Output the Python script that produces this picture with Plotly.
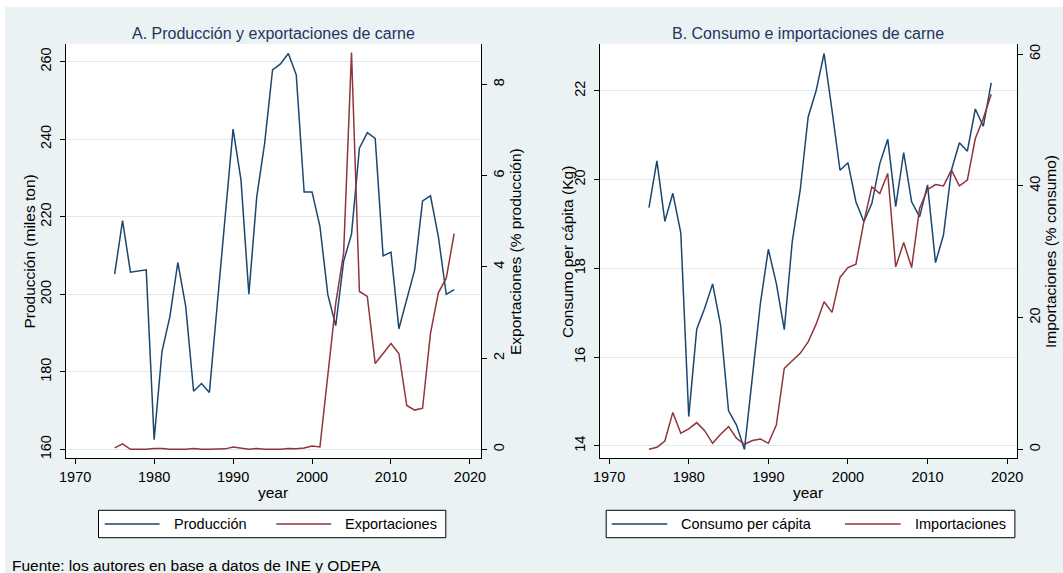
import plotly.graph_objects as go

# ---------------- data ----------------
years = list(range(1975, 2019))

produccion = [205.2, 219.0, 205.7, 206.0, 206.3, 162.5, 185.3, 194.3, 208.2, 196.9,
              175.0, 177.0, 174.7, 197.5, 220.5, 242.6, 229.5, 200.0, 225.2, 239.0,
              257.9, 259.4, 262.1, 256.6, 226.4, 226.4, 217.5, 199.9, 191.9, 208.5,
              215.5, 237.7, 241.7, 240.2, 209.9, 210.9, 191.1, 198.6, 206.3, 224.1,
              225.4, 214.9, 200.0, 201.2]

exportaciones = [0.03, 0.12, 0.0, 0.0, 0.0, 0.02, 0.02, 0.0, 0.0, 0.0,
                 0.02, 0.0, 0.0, 0.0, 0.01, 0.05, 0.03, 0.0, 0.02, 0.0,
                 0.0, 0.0, 0.02, 0.01, 0.03, 0.07, 0.05, 1.6, 3.2, 4.3,
                 8.7, 3.46, 3.35, 1.88, 2.1, 2.32, 2.1, 0.96, 0.86, 0.9,
                 2.54, 3.43, 3.75, 4.73]

consumo = [19.37, 20.42, 19.06, 19.69, 18.8, 14.66, 16.63, 17.1, 17.65, 16.72,
           14.79, 14.47, 13.92, 15.56, 17.21, 18.43, 17.66, 16.62, 18.6, 19.76,
           21.41, 22.0, 22.84, 21.56, 20.21, 20.38, 19.5, 19.05, 19.46, 20.36,
           20.91, 19.39, 20.61, 19.5, 19.16, 19.88, 18.13, 18.75, 20.21, 20.83,
           20.64, 21.59, 21.2, 22.18]

importaciones = [0.0, 0.3, 1.26, 5.6, 2.43, 3.09, 4.05, 2.83, 0.91, 2.28,
                 3.44, 1.67, 0.76, 1.32, 1.57, 0.91, 3.69, 12.29, 13.45, 14.57,
                 16.3, 19.0, 22.4, 20.79, 26.1, 27.6, 28.12, 34.55, 39.86, 38.85,
                 41.88, 27.7, 31.4, 27.6, 36.57, 39.45, 40.2, 40.0, 42.39, 40.0,
                 40.87, 47.19, 50.23, 53.92]

x_ticks = [1970, 1980, 1990, 2000, 2010, 2020]
prod_ticks = [160, 180, 200, 220, 240, 260]
exp_ticks = [0, 2, 4, 6, 8]
cons_ticks = [14, 16, 18, 20, 22]
imp_ticks = [0, 20, 40, 60]

title_a = "A. Producción y exportaciones de carne"
title_b = "B. Consumo e importaciones de carne"
name_prod = "Producción"
name_exp = "Exportaciones"
name_cons = "Consumo per cápita"
name_imp = "Importaciones"
ytitle_prod = "Producción (miles ton)"
ytitle_exp = "Exportaciones (% producción)"
ytitle_cons = "Consumo per cápita (Kg)"
ytitle_imp = "Importaciones (% consumo)"
xtitle = "year"
fuente = "Fuente: los autores en base a datos de INE y ODEPA"

# ---------------- style ----------------
W, H = 1063, 573
NAVY = "#1a476f"
MAROON = "#90353b"
BG = "#eaf2f3"
GRID = "#e0e9ed"
TITLE_C = "#243560"
FONT = "Liberation Sans, Arial, sans-serif"


def X(px):
    return px / W


def Y(py):
    return 1 - py / H


dom_y = [Y(458.3), Y(44.2)]
dom_a = [X(65.7), X(481.0)]
dom_b = [X(600.0), X(1016.7)]

fig = go.Figure()
lw = 1.5
fig.add_trace(go.Scatter(x=years, y=produccion, mode="lines", name=name_prod,
                         line=dict(color=NAVY, width=lw), xaxis="x", yaxis="y"))
fig.add_trace(go.Scatter(x=years, y=exportaciones, mode="lines", name=name_exp,
                         line=dict(color=MAROON, width=lw), xaxis="x", yaxis="y2"))
fig.add_trace(go.Scatter(x=years, y=consumo, mode="lines", name=name_cons,
                         line=dict(color=NAVY, width=lw), xaxis="x2", yaxis="y3"))
fig.add_trace(go.Scatter(x=years, y=importaciones, mode="lines", name=name_imp,
                         line=dict(color=MAROON, width=lw), xaxis="x2", yaxis="y4"))

tickfont = dict(family=FONT, size=14.5, color="black")
common = dict(showline=True, linecolor="black", linewidth=1, ticks="outside",
              ticklen=5, tickcolor="black", tickwidth=1, zeroline=False,
              tickfont=tickfont, automargin=False, fixedrange=True)

fig.update_layout(
    width=W, height=H,
    margin=dict(l=0, r=0, t=0, b=0),
    paper_bgcolor=BG, plot_bgcolor="white",
    showlegend=False,
    font=dict(family=FONT, color="black"),
    xaxis=dict(domain=dom_a, anchor="y", range=[1968.8, 2021.4], tickvals=x_ticks,
               showgrid=False, **common),
    yaxis=dict(domain=dom_y, anchor="x", range=[157.7, 264.5], tickvals=prod_ticks,
               tickangle=-90, showgrid=True, gridcolor=GRID, gridwidth=1.2,
               ticklabelstandoff=3, **common),
    yaxis2=dict(overlaying="y", side="right", anchor="x", range=[-0.197, 8.88],
                tickvals=exp_ticks, tickangle=-90, showgrid=False, **common),
    xaxis2=dict(domain=dom_b, anchor="y3", range=[1968.85, 2021.2], tickvals=x_ticks,
                showgrid=False, **common),
    yaxis3=dict(domain=dom_y, anchor="x2", range=[13.72, 23.05], tickvals=cons_ticks,
                tickangle=-90, showgrid=True, gridcolor=GRID, gridwidth=1.2,
                ticklabelstandoff=3, **common),
    yaxis4=dict(overlaying="y3", side="right", anchor="x2", range=[-1.37, 61.52],
                tickvals=imp_ticks, tickangle=-90, showgrid=False, **common),
)

shapes = []
ann = []

# white outer strips (top and left)
shapes.append(dict(type="rect", xref="paper", yref="paper", x0=0, x1=1, y0=Y(7), y1=1,
                   fillcolor="white", line=dict(width=0), layer="below"))
shapes.append(dict(type="rect", xref="paper", yref="paper", x0=0, x1=X(5), y0=0, y1=1,
                   fillcolor="white", line=dict(width=0), layer="below"))


def text(px, py, s, size, color="black", xanchor="center", angle=0):
    ann.append(dict(x=X(px), y=Y(py), xref="paper", yref="paper", text=s,
                    showarrow=False, xanchor=xanchor, yanchor="middle",
                    textangle=angle, font=dict(family=FONT, size=size, color=color)))


# titles
text(273.4, 33.5, title_a, 16, TITLE_C)
text(808.4, 33.5, title_b, 16, TITLE_C)
# axis titles
text(28.5, 252, ytitle_prod, 15.5, angle=-90)
text(515, 252, ytitle_exp, 15.5, angle=-90)
text(567, 252, ytitle_cons, 15.5, angle=-90)
text(1050, 252, ytitle_imp, 15.5, angle=-90)
text(273.4, 492, xtitle, 15.5)
text(808.4, 492, xtitle, 15.5)
# footnote
text(9.6, 565, fuente, 15.5, xanchor="left")


# legends
def legend(x0, x1, y0, y1, entries):
    shapes.append(dict(type="rect", xref="paper", yref="paper", x0=X(x0), x1=X(x1),
                       y0=Y(y1), y1=Y(y0), fillcolor="white",
                       line=dict(color="black", width=1)))
    ym = (y0 + y1) / 2
    for (lx0, lx1, tx, name, col) in entries:
        shapes.append(dict(type="line", xref="paper", yref="paper", x0=X(lx0), x1=X(lx1),
                           y0=Y(ym), y1=Y(ym), line=dict(color=col, width=1.5)))
        text(tx, ym, name, 14.5, xanchor="left")


legend(98.5, 445.8, 510.3, 537.7,
       [(104.7, 159.6, 171.6, name_prod, NAVY), (276.3, 331.2, 343.2, name_exp, MAROON)])
legend(606.2, 1014.9, 510.3, 537.7,
       [(611.7, 667.3, 679.3, name_cons, NAVY), (845.0, 900.6, 912.6, name_imp, MAROON)])

fig.update_layout(shapes=shapes, annotations=ann)
fig.write_html("out.html", config=dict(displayModeBar=False))
